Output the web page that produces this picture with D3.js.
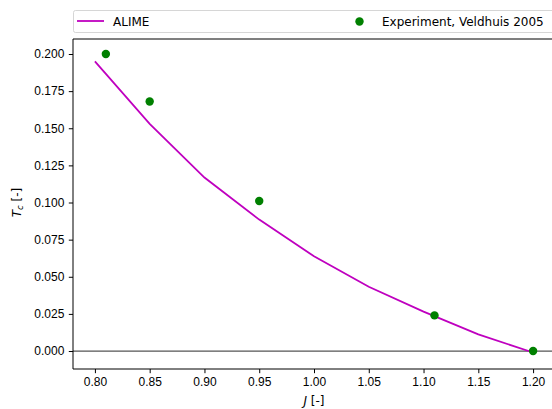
<!DOCTYPE html>
<html>
<head>
<meta charset="utf-8">
<script src="https://cdn.jsdelivr.net/npm/d3@7"></script>
<style>
  body { margin: 0; background: #fff; }
  svg { display: block; font-family: "DejaVu Sans", sans-serif; }
  .tick text { font-size: 12px; fill: #000; }
</style>
</head>
<body>
<div id="chart"></div>
<script>
// ALIME model curve
var alimeJ = [0.80, 0.85, 0.90, 0.95, 1.00, 1.05, 1.10, 1.15, 1.20];
var alimeTc = [0.195, 0.153, 0.1168, 0.0885, 0.0638, 0.0433, 0.0265, 0.0112, -0.001];

// experiment points (Veldhuis 2005)
var expJ = [0.81, 0.85, 0.95, 1.11, 1.20];
var expTc = [0.200, 0.168, 0.101, 0.024, 0.000];

var xTicks = [0.80, 0.85, 0.90, 0.95, 1.00, 1.05, 1.10, 1.15, 1.20];
var yTicks = [0.000, 0.025, 0.050, 0.075, 0.100, 0.125, 0.150, 0.175, 0.200];

var width = 552, height = 409;
var margin = {top: 39, right: -3, bottom: 40, left: 73};
var plotW = width - margin.left - margin.right,
    plotH = height - margin.top - margin.bottom;

var x = d3.scaleLinear().domain([0.78, 1.22]).range([0, plotW]);
var y = d3.scaleLinear().domain([-0.0121, 0.2101]).range([plotH, 0]);

var svg = d3.select("#chart").append("svg")
    .attr("width", width)
    .attr("height", height);

var g = svg.append("g")
    .attr("transform", "translate(" + margin.left + "," + margin.top + ")");

// zero line
g.append("line")
    .attr("x1", 0).attr("x2", plotW)
    .attr("y1", y(0)).attr("y2", y(0))
    .style("stroke", "#555")
    .style("stroke-width", 1.3);

var line = d3.line()
    .x(function(d, i) { return x(alimeJ[i]); })
    .y(function(d) { return y(d); });

g.append("path")
    .datum(alimeTc)
    .attr("d", line)
    .style("fill", "none")
    .style("stroke", "#bf00bf")
    .style("stroke-width", 1.8);

g.selectAll(".pt")
    .data(expTc)
    .enter().append("circle")
    .attr("class", "pt")
    .attr("cx", function(d, i) { return x(expJ[i]); })
    .attr("cy", function(d) { return y(d); })
    .attr("r", 4.2)
    .style("fill", "#008000");

// axes
g.append("g")
    .attr("transform", "translate(0," + plotH + ")")
    .call(d3.axisBottom(x).tickValues(xTicks).tickFormat(d3.format(".2f")).tickSizeInner(4.2).tickSizeOuter(0).tickPadding(4));

g.append("g")
    .call(d3.axisLeft(y).tickValues(yTicks).tickFormat(d3.format(".3f")).tickSizeInner(4.2).tickSizeOuter(0).tickPadding(4.5));

g.selectAll(".domain").remove();
g.selectAll(".tick line").style("stroke", "#000").style("stroke-width", 1);

// spines
g.append("line").attr("x1", 0).attr("x2", 0).attr("y1", 0).attr("y2", plotH)
    .style("stroke", "#000").style("stroke-width", 1);
g.append("line").attr("x1", 0).attr("x2", plotW).attr("y1", plotH).attr("y2", plotH)
    .style("stroke", "#000").style("stroke-width", 1);
g.append("line").attr("x1", 0).attr("x2", plotW).attr("y1", 0).attr("y2", 0)
    .style("stroke", "#000").style("stroke-width", 1);

// axis labels
svg.append("text")
    .attr("x", margin.left + x(1.0))
    .attr("y", 405)
    .attr("text-anchor", "middle")
    .style("font-size", "12px")
    .html('<tspan font-style="italic">J</tspan> [-]');

svg.append("text")
    .attr("transform", "translate(21," + (margin.top + y(0.1)) + ") rotate(-90)")
    .attr("text-anchor", "middle")
    .style("font-size", "12px")
    .html('<tspan font-style="italic">T</tspan><tspan font-style="italic" font-size="8.5px" dy="2">c</tspan><tspan dy="-2"> [-]</tspan>');

// legend
var leg = svg.append("g");
leg.append("rect")
    .attr("x", margin.left + 0.5)
    .attr("y", 10.5)
    .attr("width", width)
    .attr("height", 22)
    .attr("rx", 2)
    .style("fill", "#fff")
    .style("stroke", "#ccc")
    .style("stroke-width", 0.8);
leg.append("line")
    .attr("x1", 77).attr("x2", 104).attr("y1", 21).attr("y2", 21)
    .style("stroke", "#bf00bf").style("stroke-width", 1.8);
leg.append("text")
    .attr("x", 113).attr("y", 25.5)
    .style("font-size", "12px")
    .text("ALIME");
leg.append("circle")
    .attr("cx", 359.5).attr("cy", 21.5).attr("r", 4.2)
    .style("fill", "#008000");
leg.append("text")
    .attr("x", 382).attr("y", 25.5)
    .style("font-size", "12px")
    .text("Experiment, Veldhuis 2005");
</script>
</body>
</html>
